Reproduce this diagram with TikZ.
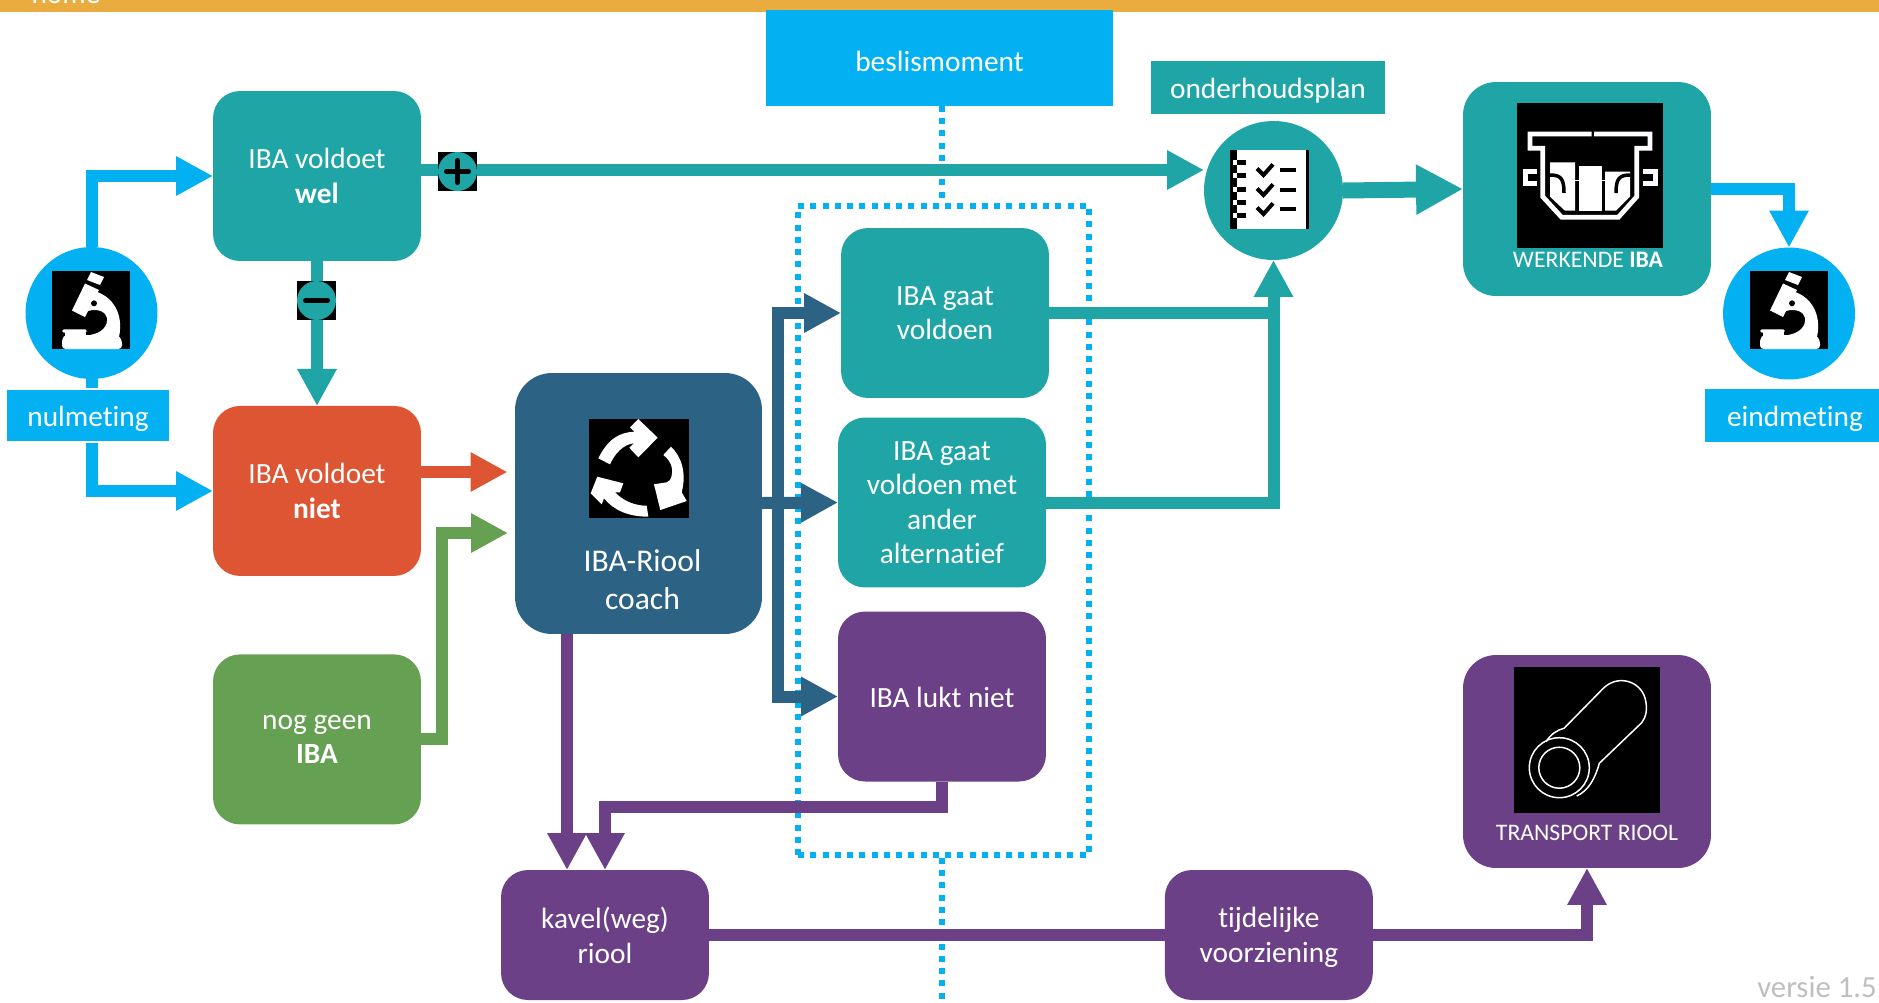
\documentclass[tikz,border=0pt]{standalone}
\usepackage{fontspec}
\setmainfont{Carlito}[Ligatures=NoCommon]
\usepackage{tikz}
\usetikzlibrary{positioning, arrows.meta, calc}
\definecolor{ibablue}{HTML}{03B1F3}
\definecolor{ibateal}{HTML}{20A5A6}
\definecolor{ibared}{HTML}{DE5533}
\definecolor{ibagreen}{HTML}{66A052}
\definecolor{ibanavy}{HTML}{2C6283}
\definecolor{ibapurple}{HTML}{6C4087}
\definecolor{ibabar}{HTML}{EAAB3F}
\definecolor{ibagrey}{HTML}{BFBFBF}
\newcommand{\boxfont}{\fontsize{16.7}{19.7}\selectfont}
\newcommand{\capsfont}{\fontsize{13.5}{16}\selectfont}
\newcommand{\coachfont}{\fontsize{18}{22}\selectfont}
\tikzset{
  lowered/.style={execute at begin node={\rule{0pt}{15.6pt}},
                  execute at end node={\rule[-3.5pt]{0pt}{3.5pt}}},
  lines/.style={text depth=-2.6pt},
  box/.style={lowered, rounded corners=.54cm, minimum width=4.16cm, minimum height=3.4cm,
              inner sep=0pt, outer sep=0pt, align=center, text=white, font=\boxfont},
  tag/.style={lowered, inner sep=0pt, outer sep=0pt, text=white, font=\boxfont},
  round/.style={circle, inner sep=0pt, outer sep=0pt},
  iconbox/.style={fill=black, inner sep=0pt, outer sep=0pt, anchor=north west},
  signbox/.style={fill=black, inner sep=0pt, outer sep=0pt, minimum size=.78cm},
  signdot/.style={circle, fill=ibateal, inner sep=0pt, outer sep=0pt, minimum size=.78cm},
  sign/.style={line width=.1cm, line cap=round},
  arrow/.style={line width=.24cm, -{Triangle[length=.74cm,width=.74cm]}},
  dots/.style={draw=ibablue, line width=.12cm, dash pattern=on .12cm off .125cm},
  % icons, coordinates in pixels of the square
  microscope/.pic={
    \fill[white] (39,1) -- (52,6) -- (48,14) -- (35,9) -- cycle;
    \fill[white] (33,12.5) -- (47,19) -- (33,46) -- (20,39.5) -- cycle;
    \fill[white] (45,21) .. controls (60,26) and (72,42) .. (67,66) -- (38,64)
      .. controls (50,62) and (56,55) .. (55,47) .. controls (54,41) and (46,37) .. (36,40) -- cycle;
    \fill[black] (42,32.3) circle (3);
    \fill[white, rounded corners=1pt] (10,58.3) rectangle (35,61.7);
    \fill[white] (13,61) rectangle (34,66);
    \fill[white, rounded corners=2pt] (10,78) -- (10,67) -- (14,64) -- (66,64) -- (70,69) -- (70,78) -- cycle;
  },
  checklist/.pic={
    \fill[white] (0,0) rectangle (79,79);
    \fill[black] (0,0) rectangle (7,79);
    \fill[black] (76,0) rectangle (79,79);
    \foreach \y in {10,23.3,36.7,50,63.3} {
      \fill[black] (7,\y) rectangle (16,\y+5);
      \fill[white] (3,\y) rectangle (7,\y+5);
    }
    \foreach \y in {0,20,39} {
      \draw[black, line width=.08cm] (27,18.5+\y) -- (33.5,25+\y) -- (43,14.3+\y);
      \fill[black] (50,17.7+\y) rectangle (66,22.4+\y);
    }
  },
  coachring/.pic={
    \fill[white] (9.3,39.3) .. controls (19.3,19.3) and (31,13.3) .. (45.3,12.7) -- (41,8.3) -- (49.3,0)
      -- (68.7,18.7) -- (49.3,38.3) -- (40.3,28.7) -- (45,24.3)
      .. controls (34.3,25.3) and (26,34.3) .. (21,45.3) -- cycle;
    \fill[white] (82,27.7) .. controls (92.7,37.7) and (97.7,54.3) .. (92.7,73.3) -- (97.7,82) -- (71.3,91)
      -- (65,65.3) -- (77.7,63.3) -- (81,61) .. controls (85.3,52.7) and (83.3,42.7) .. (74.3,36) -- cycle;
    \fill[white] (59.3,97.7) .. controls (39.3,97.7) and (24.3,91) .. (15,79.3) -- (12.7,85.3) -- (1.7,74.3)
      -- (8.3,57.7) -- (34.3,64.3) -- (31,73.3) -- (26,73.3)
      .. controls (34.3,82) and (46,86.7) .. (57.7,86.7) -- cycle;
  },
  tank/.pic={
    \draw[white, line width=.095cm] (74.7,31) -- (13,31) -- (13,45.3) -- (25.7,45.3) -- (25.7,93.7)
      -- (44.7,114.3) -- (101.3,114.3) -- (119.7,93.7) -- (119.7,45.3) -- (133,45.3) -- (133,31) -- (77,31);
    \draw[white, line width=.1cm] (20,68.3) -- (8,68.3) -- (8,80.7) -- (20,80.7);
    \draw[white, line width=.1cm] (126,68.3) -- (138,68.3) -- (138,80.7) -- (126,80.7);
    \fill[white] (33,59.3) -- (58,59.3) -- (58,107.7) -- (48,107.7) -- (33,93.7) -- cycle;
    \fill[white] (62,63) rectangle (84.7,107.7);
    \fill[white] (88,68.7) -- (113,68.7) -- (113,93.7) -- (99,107.7) -- (88,107.7) -- cycle;
    \draw[black, line width=.07cm] (33,72) .. controls (44,72) and (47,76) .. (47,90);
    \draw[black, line width=.07cm] (113,72) .. controls (102,72) and (99,76) .. (99,90);
    \draw[white, line width=.02cm] (58,77.5) -- (62,77.5);
    \draw[white, line width=.02cm] (84.7,77.5) -- (88,77.5);
  },
  pipe/.pic={
    \draw[white, line width=.03cm] (45.3,100.7) circle (30);
    \draw[white, line width=.03cm] (45.3,100.7) circle (20.5);
    \draw[white, line width=.03cm] (32,74.7) .. controls (37,67) and (43,63) .. (50,61.3) -- (89.3,21.3)
      .. controls (104,7) and (126,14) .. (131,31) .. controls (134,42) and (132,50) .. (127.7,55.7) -- (85.3,96.3)
      .. controls (81,112) and (74,124) .. (62.7,129);
  },
}
\begin{document}
\begin{tikzpicture}[x=.02cm, y=-.02cm]
  \path[use as bounding box, clip] (0,0) rectangle (1879,1002);
  \fill[white] (0,0) rectangle (1879,1002);
  % Top bar
  \fill[ibabar] (0,0) rectangle (1879,12);
  \node[tag, anchor=base] (home) at (66,3) {home};
  % Decision moment
  \node[tag, fill=ibablue, minimum width=6.94cm, minimum height=1.92cm, execute at begin node={\rule{0pt}{18.6pt}}] (beslis) at (939.5,58) {beslismoment};
  \node[dots, draw, minimum width=5.82cm, minimum height=12.98cm, inner sep=0pt] (keuze) at (943.5,530.5) {};
  \coordinate (dotbot) at (942,1002);
  \draw[dots] (beslis.south -| dotbot) -- (keuze.north -| dotbot);
  \draw[dots] (keuze.south -| dotbot) -- (dotbot);
  % Left column
  \node[box, lines, fill=ibateal] (wel) at (317,176) {IBA voldoet\\\textbf{wel}};
  \node[box, lines, fill=ibared, below=2.9cm of wel] (niet) {IBA voldoet\\\textbf{niet}};
  \node[box, lines, text depth=-5.9pt, fill=ibagreen, below=1.57cm of niet] (geen) {nog geen\\\textbf{IBA}};
  % Coach
  \node[box, fill=ibanavy, rounded corners=.74cm, minimum width=4.94cm, minimum height=5.22cm] (coach) at (638.5,503.5) {};
  \node[iconbox, minimum width=2cm, minimum height=1.98cm] (coachicon) at (589,419) {};
  \pic at (coachicon.north west) {coachring};
  \node[tag, lines, align=center, font=\coachfont] (coachtext) at (642.5,579.6) {IBA-Riool\\coach};
  % Outcomes
  \node[box, lines, fill=ibateal] (voldoen) at (945,313) {IBA gaat\\voldoen};
  \node[box, lines, fill=ibateal] (ander) at (942,502.5) {IBA gaat\\voldoen met\\ander\\alternatief};
  \node[box, fill=ibapurple] (lukt) at (942,696.5) {IBA lukt niet};
  % Bottom row
  \node[box, lines, fill=ibapurple, minimum height=2.6cm] (kavel) at (605,935) {kavel(weg)\\riool};
  \node[box, lines, fill=ibapurple, minimum height=2.6cm, right=9.12cm of kavel] (tijd) {tijdelijke\\voorziening};
  % Measurements
  \node[round, fill=ibablue, minimum size=2.64cm] (nul) at (91.5,313) {};
  \node[iconbox, minimum size=1.56cm] (nulicon) at (52,271) {};
  \pic at (nulicon.north west) {microscope};
  \node[round, fill=ibablue, minimum size=2.64cm] (eind) at (1789,313.5) {};
  \node[iconbox, minimum size=1.56cm] (eindicon) at (1750,271) {};
  \pic at (eindicon.north west) {microscope};
  % Maintenance plan
  \node[round, fill=ibateal, minimum size=2.78cm] (plan) at (1273.5,190.5) {};
  \node[iconbox, minimum size=1.58cm] (planicon) at (1230,150) {};
  \pic at (planicon.north west) {checklist};
  \node[tag, fill=ibateal, minimum width=4.68cm, minimum height=1.06cm] (plantag) at (1268,87.5) {onderhoudsplan};
  % End boxes
  \node[box, fill=ibateal, rounded corners=.66cm, minimum width=4.96cm, minimum height=4.28cm] (iba) at (1587,189) {};
  \node[iconbox, minimum width=2.92cm, minimum height=2.9cm] (ibaicon) at (1517,103) {};
  \pic at (ibaicon.north west) {tank};
  \node[tag, font=\capsfont] (ibatext) at (1588,256.7) {WERKENDE \textbf{IBA}};
  \node[box, fill=ibapurple, rounded corners=.66cm, minimum width=4.96cm, minimum height=4.26cm] (riool) at (1587,761.5) {};
  \node[iconbox, minimum size=2.92cm] (rioolicon) at (1514,667) {};
  \pic at (rioolicon.north west) {pipe};
  \node[tag, font=\capsfont] (riooltext) at (1587,829.7) {TRANSPORT RIOOL};
  % Arrows
  \coordinate (plantip) at (1204,170);
  \coordinate (redtip) at (507.5,472);
  \coordinate (greentip) at (508,533);
  \coordinate (bus) at (778,503);
  \coordinate (coachtip) at (567,870);
  \draw[arrow, draw=ibablue] (nul.north) |- (wel.west);
  \draw[arrow, draw=ibablue] (nul.south) |- (niet.west);
  \draw[arrow, draw=ibablue] (iba.east) -| (eind.north);
  \draw[arrow, draw=ibateal] (wel.east |- plantip) -- (plantip);
  \draw[arrow, draw=ibateal] (wel.south) -- (niet.north);
  \draw[arrow, draw=ibateal, line width=.32cm, -{Triangle[length=.94cm,width=.94cm]}] (plan.east) -- (iba.west);
  \draw[arrow, draw=ibateal] (ander.east) -| (plan.south);
  \draw[line width=.24cm, draw=ibateal] (voldoen.east) -- (voldoen.east -| plan.south);
  \draw[arrow, draw=ibared] (niet.east |- redtip) -- (redtip);
  \draw[arrow, draw=ibagreen] (geen.east) -- ++(21,0) |- (greentip);
  \draw[arrow, draw=ibanavy] (coach.east |- bus) -- (ander.west);
  \draw[arrow, draw=ibanavy] (bus) |- (voldoen.west);
  \draw[arrow, draw=ibanavy] (bus) |- (lukt.west);
  \draw[arrow, draw=ibapurple] (coach.south -| coachtip) -- (coachtip);
  \draw[arrow, draw=ibapurple] (lukt.south) -- ++(0,25) -| (kavel.north);
  \draw[line width=.24cm, draw=ibapurple] (kavel.east) -- (tijd.west);
  \draw[arrow, draw=ibapurple] (tijd.east) -| (riool.south);
  % Plus and minus
  \node[signbox] (plus) at (457.5,171.5) {};
  \node[signdot] (plusdot) at (plus) {};
  \draw[sign] ($(plus)+(-11,0)$) -- ($(plus)+(11,0)$);
  \draw[sign] ($(plus)+(0,-11)$) -- ($(plus)+(0,11)$);
  \node[signbox] (minus) at (316.5,300.5) {};
  \node[signdot] (minusdot) at (minus) {};
  \draw[sign] ($(minus)+(-11,0)$) -- ($(minus)+(11,0)$);
  % Labels
  \node[tag, fill=ibablue, draw=white, line width=.04cm, minimum width=3.28cm, minimum height=1.06cm] (nultag) at (88,415.5) {nulmeting};
  \node[tag, fill=ibablue, minimum width=3.6cm, minimum height=1.06cm] (eindtag) at (1795,415.5) {eindmeting};
  \node[tag, text=ibagrey, font=\fontsize{17.5}{20}\selectfont, anchor=base] (versie) at (1817,997) {versie 1.5};
\end{tikzpicture}
\end{document}
